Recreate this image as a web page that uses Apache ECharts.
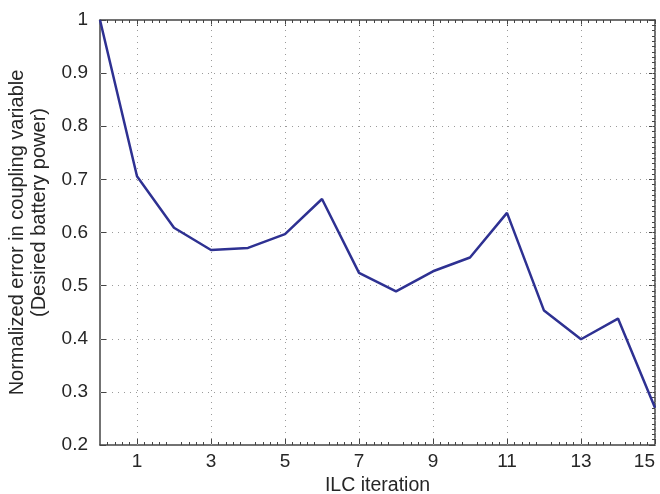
<!DOCTYPE html>
<html>
<head>
<meta charset="utf-8">
<script src="https://cdn.jsdelivr.net/npm/echarts@6/dist/echarts.min.js"></script>
<style>
  html, body { margin: 0; padding: 0; background: #fff; }
  #chart { width: 660px; height: 494px; }
</style>
</head>
<body>
<div id="chart"></div>
<script>
// ILC iteration vs normalized error
const iterations = [0, 1, 2, 3, 4, 5, 6, 7, 8, 9, 10, 11, 12, 13, 14, 15]
const errors = [1.0, 0.706, 0.609, 0.567, 0.571, 0.597, 0.663, 0.524, 0.489, 0.527, 0.553, 0.637, 0.453, 0.399, 0.438, 0.27]
const xTicks = [1, 3, 5, 7, 9, 11, 13, 15]
const yGrid = [0.3, 0.4, 0.5, 0.6, 0.7, 0.8, 0.9]

const font = 'Liberation Sans, Arial, sans-serif'
const axisColor = '#444'
const textColor = '#262626'
const gridStyle = { color: '#9a9a9a', width: 1, type: [1, 5] }

const baseX = {
  type: 'value',
  min: 0,
  max: 15,
  interval: 1,
  axisLine: { show: true, onZero: false, lineStyle: { color: axisColor, width: 1.5 } },
  axisTick: { show: true, inside: true, length: 6, customValues: xTicks, lineStyle: { color: axisColor } },
  minorTick: { show: true, splitNumber: 5, length: 3, lineStyle: { color: axisColor } },
  splitLine: { show: false }
}
const baseY = {
  type: 'value',
  min: 0.2,
  max: 1,
  interval: 0.1,
  axisLine: { show: true, onZero: false, lineStyle: { color: axisColor, width: 1.5 } },
  axisTick: { show: true, inside: true, length: 6, lineStyle: { color: axisColor } },
  splitLine: { show: false }
}

const chart = echarts.init(document.getElementById('chart'))
chart.setOption({
  animation: false,
  backgroundColor: '#fff',
  grid: { left: 100, right: 5, top: 20, bottom: 49, outerBoundsMode: 'none' },
  xAxis: [
    Object.assign({}, baseX, {
      position: 'bottom',
      name: 'ILC iteration',
      nameLocation: 'middle',
      nameGap: 27,
      nameTextStyle: { fontFamily: font, fontSize: 19.5, color: textColor },
      axisLabel: {
        customValues: xTicks,
        margin: 7,
        alignMaxLabel: 'right',
        fontFamily: font, fontSize: 19, color: textColor
      }
    }),
    Object.assign({}, baseX, {
      position: 'top',
      axisLabel: { show: false }
    })
  ],
  yAxis: [
    Object.assign({}, baseY, {
      position: 'left',
      name: '{a|Normalized error in coupling variable}\n{b|(Desired battery power)}',
      nameLocation: 'middle',
      nameGap: 50,
      nameTextStyle: {
        fontFamily: font, fontSize: 20, color: textColor, lineHeight: 22,
        rich: {
          a: { fontFamily: font, fontSize: 20, color: textColor, lineHeight: 22 },
          b: { fontFamily: font, fontSize: 20, color: textColor, lineHeight: 22, padding: [0, 0, 0, 40] }
        }
      },
      axisLabel: {
        margin: 12,
        fontFamily: font, fontSize: 19, color: textColor,
        formatter: v => String(Math.round(v * 10) / 10)
      }
    }),
    Object.assign({}, baseY, {
      position: 'right',
      axisLabel: { show: false },
      minorTick: { show: true, splitNumber: 10, length: 3, lineStyle: { color: axisColor } }
    })
  ],
  series: [{
    type: 'line',
    xAxisIndex: 0,
    yAxisIndex: 0,
    data: iterations.map((x, i) => [x, errors[i]]),
    symbol: 'none',
    lineStyle: { color: '#2e3192', width: 2.5 },
    markLine: {
      silent: true,
      symbol: 'none',
      label: { show: false },
      lineStyle: gridStyle,
      data: xTicks.map(v => ({ xAxis: v }))
        .concat(yGrid.map(v => ({ yAxis: v })))
    },
    z: 5
  }]
})
</script>
</body>
</html>
